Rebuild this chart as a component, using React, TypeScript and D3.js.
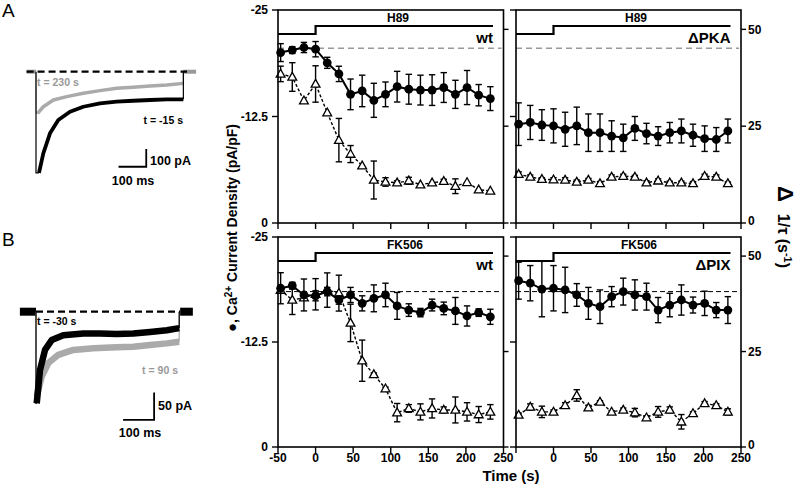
import React from "react";
import * as d3 from "d3";

const FONT = "'Liberation Sans', Arial, Helvetica, sans-serif";

// ---------- data ----------
const times = [-46.5, -31, -15.5, 0, 15.5, 31, 46.5, 62, 77.5, 93, 108.5, 124, 139.5, 155, 170.5, 186, 201.5, 217, 232.5];
const xTicks = [-50, 0, 50, 100, 150, 200, 250];
const leftTicks = [-25, -12.5, 0];
const rightTicks = [0, 25, 50];

// H89, wt
const h89WtCurrent = [-20.0, -20.3, -20.6, -20.4, -18.8, -17.5, -15.1, -15.5, -14.4, -15.1, -16.0, -15.7, -15.6, -15.6, -15.9, -15.1, -15.9, -15.0, -14.6];
const h89WtCurrentErr = [1.05, 0.4, 0.6, 0.9, 0.65, 0.9, 1.8, 1.85, 2.0, 1.45, 1.8, 1.75, 1.75, 1.8, 1.75, 1.65, 2.0, 1.25, 1.4];
const h89WtRate = [38.5, 37.7, 31.6, 35.9, 28.5, 21.4, 17.8, 14.8, 11.1, 10.6, 10.4, 10.9, 9.9, 10.4, 10.8, 9.5, 10.5, 8.6, 8.3];
const h89WtRateErr = [2.0, 3.7, 0, 4.7, 0, 5.6, 2.2, 0, 4.9, 1.1, 0.5, 0.9, 0, 0, 0.5, 1.9, 0, 0, 0];

// H89, ΔPKA
const h89PkaCurrent = [-11.6, -11.8, -11.5, -11.4, -11.0, -11.4, -10.6, -10.6, -10.2, -10.0, -11.1, -10.5, -10.2, -10.6, -10.8, -10.3, -9.9, -9.8, -10.8];
const h89PkaCurrentErr = [2.5, 2.0, 1.8, 2.0, 2.0, 2.2, 2.2, 2.2, 1.8, 1.6, 1.4, 1.2, 1.1, 1.2, 1.4, 1.3, 1.5, 1.4, 1.4];
const h89PkaRate = [12.6, 11.9, 11.3, 11.2, 11.1, 10.6, 11.1, 10.2, 11.9, 12.1, 11.9, 10.4, 10.9, 10.4, 10.4, 10.2, 12.1, 11.9, 10.2];
const h89PkaRateErr = [0.6, 0.5, 0.4, 0.5, 0.6, 0.5, 0.4, 0.5, 0.5, 0.5, 0.4, 0.5, 0.5, 0.4, 0.4, 0.5, 0.5, 0.5, 0.4];

// FK506, wt
const fkWtCurrent = [-18.9, -19.2, -18.1, -18.0, -18.5, -17.5, -18.1, -17.1, -17.7, -18.1, -16.8, -16.3, -16.0, -16.9, -16.5, -16.2, -15.6, -16.0, -15.5];
const fkWtCurrentErr = [1.85, 0.4, 1.9, 0.6, 0.5, 0.5, 0.9, 0.9, 1.6, 1.4, 1.6, 0.75, 0.5, 0.7, 0.75, 1.6, 1.2, 0.45, 0.9];
const fkWtRate = [41.1, 38.5, 39.1, 40.0, 41.1, 40.3, 32.5, 22.6, 19.0, 15.3, 9.0, 10.1, 9.2, 10.1, 9.7, 9.7, 9.2, 8.5, 9.2];
const fkWtRateErr = [0.4, 3.8, 0.5, 4.1, 4.5, 4.7, 4.9, 5.4, 0.4, 0.4, 2.4, 1.0, 2.1, 2.5, 0.8, 3.4, 2.4, 2.1, 1.9];

// FK506, ΔPIX
const fkPixCurrent = [-19.8, -19.5, -18.8, -18.9, -18.7, -18.1, -17.1, -16.7, -17.9, -18.5, -18.1, -17.9, -16.3, -16.9, -17.5, -16.9, -17.1, -16.3, -16.3];
const fkPixCurrentErr = [2.2, 2.1, 3.3, 2.7, 2.7, 1.35, 1.9, 2.0, 1.2, 1.6, 1.8, 1.6, 1.5, 1.4, 1.8, 0.95, 1.45, 0.9, 1.6];
const fkPixRate = [8.4, 10.5, 9.2, 9.2, 10.9, 13.5, 10.3, 11.8, 9.2, 9.7, 9.0, 7.7, 9.2, 9.7, 6.6, 8.8, 11.4, 10.9, 9.2];
const fkPixRateErr = [0.5, 0.8, 1.5, 0.5, 0.7, 1.5, 0.6, 0.3, 0.3, 0.5, 1.1, 0.5, 1.4, 0.8, 1.9, 0.4, 0.5, 0.4, 0.8];

// reference current levels (pA/pF)
const h89Ref = -20.5;
const fkRef = -18.5;
const drugStart = 0;
const drugEnd = 236;

// example current traces: [time (ms), current (pA)]
const traceABlack: [number, number][] = [[10.8, -572], [26.4, -461], [50.5, -348], [80.5, -273], [122.7, -226], [170.8, -198], [231, -179], [291, -169], [351, -164], [412, -160], [472, -156], [532, -156]];
const traceAGray: [number, number][] = [[6, -235], [26.4, -198], [62.5, -160], [110.8, -141], [170.8, -122], [231, -107], [291, -94], [351, -88], [412, -81], [472, -75], [532, -66]];
const traceBBlack: [number, number][] = [[2.3, -168], [12.9, -107], [29, -70], [50.6, -52], [88, -43], [152.6, -40], [206, -40], [260, -41], [314, -40], [368, -37], [422, -34], [462, -30]];
const traceBGray: [number, number][] = [[2.3, -155], [18.4, -119], [39.7, -94], [72, -79], [120, -70], [185, -67], [260, -65], [314, -64], [368, -61], [422, -58], [462, -55]];

type PanelProps = {
  x0: number; x1: number; y0: number; y1: number;
  current: number[]; currentErr: number[]; rate: number[]; rateErr: number[];
  drug: string; drugX: number; genotype: string; refLevel: number; refColor: string; refDash: string; refWidth: number;
  leftLabels: boolean; rightLabels: boolean; xLabels: number[] | null;
};

function Panel(p: PanelProps) {
  const x = d3.scaleLinear().domain([-50, 250]).range([p.x0, p.x1]);
  const yL = d3.scaleLinear().domain([0, -25]).range([p.y1, p.y0]);
  const yR = d3.scaleLinear().domain([0, 55]).range([p.y1, p.y0]);
  const lineL = d3.line<number>().x((_, i) => x(times[i])).y((d) => yL(d));
  const lineR = d3.line<number>().x((_, i) => x(times[i])).y((d) => yR(d));
  const tri = (cx: number, cy: number) => `M${cx},${cy - 4.6}L${cx + 4.4},${cy + 3.2}L${cx - 4.4},${cy + 3.2}Z`;
  const cap = 3.2;
  return (
    <g fontFamily={FONT} fontWeight="bold">
      <line x1={p.x0} x2={p.x1 - 2} y1={yL(p.refLevel)} y2={yL(p.refLevel)} stroke={p.refColor} strokeWidth={p.refWidth} strokeDasharray={p.refDash} />
      <path d={`M${p.x0},${p.y0 + 24}H${x(drugStart)}V${p.y0 + 16}H${x(drugEnd)}`} fill="none" stroke="#000" strokeWidth={2.2} />
      <text x={p.drugX} y={p.y0 + 12} textAnchor="middle" fontSize={12}>{p.drug}</text>
      <text x={x(drugEnd)} y={p.y0 + 33} textAnchor="end" fontSize={15}>{p.genotype}</text>
      {p.rate.map((v, i) => p.rateErr[i] > 0 ? (
        <g key={"re" + i} stroke="#000" strokeWidth={1.4}>
          <line x1={x(times[i])} x2={x(times[i])} y1={yR(v - p.rateErr[i])} y2={yR(v + p.rateErr[i])} />
          <line x1={x(times[i]) - cap} x2={x(times[i]) + cap} y1={yR(v - p.rateErr[i])} y2={yR(v - p.rateErr[i])} />
          <line x1={x(times[i]) - cap} x2={x(times[i]) + cap} y1={yR(v + p.rateErr[i])} y2={yR(v + p.rateErr[i])} />
        </g>
      ) : null)}
      <path d={lineR(p.rate) || ""} fill="none" stroke="#000" strokeWidth={1.4} strokeDasharray="3,2" />
      {p.rate.map((v, i) => (
        <path key={"t" + i} d={tri(x(times[i]), yR(v))} fill="#fff" stroke="#000" strokeWidth={1.3} />
      ))}
      {p.current.map((v, i) => (
        <g key={"ce" + i} stroke="#000" strokeWidth={1.4}>
          <line x1={x(times[i])} x2={x(times[i])} y1={yL(v - p.currentErr[i])} y2={yL(v + p.currentErr[i])} />
          <line x1={x(times[i]) - cap} x2={x(times[i]) + cap} y1={yL(v - p.currentErr[i])} y2={yL(v - p.currentErr[i])} />
          <line x1={x(times[i]) - cap} x2={x(times[i]) + cap} y1={yL(v + p.currentErr[i])} y2={yL(v + p.currentErr[i])} />
        </g>
      ))}
      <path d={lineL(p.current) || ""} fill="none" stroke="#000" strokeWidth={2} />
      {p.current.map((v, i) => (
        <circle key={"c" + i} cx={x(times[i])} cy={yL(v)} r={4.4} fill="#000" />
      ))}
      <rect x={p.x0} y={p.y0} width={p.x1 - p.x0} height={p.y1 - p.y0} fill="none" stroke="#000" strokeWidth={1.6} />
      {leftTicks.map((t) => (
        <g key={"lt" + t}>
          <line x1={p.x0 - 6} x2={p.x0} y1={yL(t)} y2={yL(t)} stroke="#000" strokeWidth={1.4} />
          {p.leftLabels ? <text x={p.x0 - 10} y={yL(t) + 4.3} textAnchor="end" fontSize={12}>{t}</text> : null}
        </g>
      ))}
      {rightTicks.map((t) => (
        <g key={"rt" + t}>
          <line x1={p.x1} x2={p.x1 + 5} y1={yR(t)} y2={yR(t)} stroke="#000" strokeWidth={1.4} />
          {p.rightLabels ? <text x={p.x1 + 7} y={yR(t) + (t === 0 ? 2 : 4.3)} textAnchor="start" fontSize={12}>{t}</text> : null}
        </g>
      ))}
      {xTicks.map((t) => (
        <g key={"xt" + t}>
          <line x1={x(t)} x2={x(t)} y1={p.y1} y2={p.y1 + 6} stroke="#000" strokeWidth={1.4} />
          {p.xLabels && p.xLabels.includes(t) ? <text x={x(t)} y={p.y1 + 15} textAnchor="middle" fontSize={12}>{t}</text> : null}
        </g>
      ))}
    </g>
  );
}

function Trace(props: { data: [number, number][]; sx: d3.ScaleLinear<number, number>; sy: d3.ScaleLinear<number, number>; color: string; width: number; endT: number }) {
  const { data, sx, sy, color, width, endT } = props;
  const line = d3.line<[number, number]>().x((d) => sx(d[0])).y((d) => sy(d[1]));
  const first = data[0];
  const last = data[data.length - 1];
  return (
    <g>
      <path d={`M${sx(0)},${sy(0)}L${sx(0)},${sy(first[1])}L${sx(first[0])},${sy(first[1])}`} fill="none" stroke={color} strokeWidth={1.2} />
      <path d={line(data) || ""} fill="none" stroke={color} strokeWidth={width} strokeLinejoin="round" />
      <line x1={sx(endT)} x2={sx(endT)} y1={sy(last[1])} y2={sy(0)} stroke={color} strokeWidth={1.2} />
    </g>
  );
}

export default function App() {
  const axA = d3.scaleLinear().domain([0, 100]).range([36, 63.7]);
  const ayA = d3.scaleLinear().domain([0, -100]).range([71.7, 89.4]);
  const axB = d3.scaleLinear().domain([0, 100]).range([36, 67]);
  const ayB = d3.scaleLinear().domain([0, -50]).range([311.7, 339]);

  return (
    <svg width={800} height={486} style={{ position: "absolute", left: 0, top: 0, background: "#fff" }} fontFamily={FONT}>
      <rect x={0} y={0} width={800} height={486} fill="#fff" />
      {/* Panel A traces */}
      <text x={2} y={17} fontSize={19}>A</text>
      <line x1={axA(-34)} x2={axA(0)} y1={ayA(0)} y2={ayA(0)} stroke="#999" strokeWidth={4} />
      <line x1={axA(532)} x2={axA(578)} y1={ayA(0)} y2={ayA(0)} stroke="#999" strokeWidth={4} />
      <Trace data={traceAGray} sx={axA} sy={ayA} color="#aaa" width={3.5} endT={532} />
      <Trace data={traceABlack} sx={axA} sy={ayA} color="#000" width={3.8} endT={532} />
      <line x1={axA(-34)} x2={axA(545)} y1={ayA(0)} y2={ayA(0)} stroke="#000" strokeWidth={2.2} strokeDasharray="7,4" />
      <text x={37} y={86} fontSize={10.5} fontWeight="bold" fill="#999">t = 230 s</text>
      <text x={183} y={124} fontSize={10.5} fontWeight="bold" textAnchor="end">t = -15 s</text>
      <path d={`M${axA(298)},${ayA(-537)}H${axA(398)}V${ayA(-437)}`} fill="none" stroke="#000" strokeWidth={1.8} />
      <text x={150} y={165} fontSize={12.5} fontWeight="bold">100 pA</text>
      <text x={133} y={185} fontSize={12.5} fontWeight="bold" textAnchor="middle">100 ms</text>

      {/* Panel B traces */}
      <text x={2} y={246} fontSize={19}>B</text>
      <line x1={axB(-52)} x2={axB(0)} y1={ayB(0)} y2={ayB(0)} stroke="#000" strokeWidth={8} />
      <line x1={axB(465)} x2={axB(506)} y1={ayB(0)} y2={ayB(0)} stroke="#000" strokeWidth={8} />
      <Trace data={traceBGray} sx={axB} sy={ayB} color="#aaa" width={6.5} endT={462} />
      <Trace data={traceBBlack} sx={axB} sy={ayB} color="#000" width={6.5} endT={462} />
      <line x1={axB(0)} x2={axB(465)} y1={ayB(0)} y2={ayB(0)} stroke="#000" strokeWidth={2.2} strokeDasharray="7,4" />
      <text x={37} y={325} fontSize={10.5} fontWeight="bold">t = -30 s</text>
      <text x={178} y={374} fontSize={10.5} fontWeight="bold" fill="#999" textAnchor="end">t = 90 s</text>
      <path d={`M${axB(281)},${ayB(-198)}H${axB(381)}V${ayB(-148)}`} fill="none" stroke="#000" strokeWidth={1.8} />
      <text x={158} y={410} fontSize={12.5} fontWeight="bold">50 pA</text>
      <text x={140} y={437} fontSize={12.5} fontWeight="bold" textAnchor="middle">100 ms</text>

      {/* Summary panels */}
      <Panel x0={278} x1={503.5} y0={10} y1={223} current={h89WtCurrent} currentErr={h89WtCurrentErr} rate={h89WtRate} rateErr={h89WtRateErr}
        drug="H89" drugX={398} genotype="wt" refLevel={h89Ref} refColor="#999" refDash="6,4" refWidth={1.5}
        leftLabels={true} rightLabels={false} xLabels={null} />
      <Panel x0={516} x1={741} y0={10} y1={223} current={h89PkaCurrent} currentErr={h89PkaCurrentErr} rate={h89PkaRate} rateErr={h89PkaRateErr}
        drug="H89" drugX={636} genotype="ΔPKA" refLevel={h89Ref} refColor="#999" refDash="6,4" refWidth={1.5}
        leftLabels={false} rightLabels={true} xLabels={null} />
      <Panel x0={278} x1={503.5} y0={237} y1={447} current={fkWtCurrent} currentErr={fkWtCurrentErr} rate={fkWtRate} rateErr={fkWtRateErr}
        drug="FK506" drugX={405} genotype="wt" refLevel={fkRef} refColor="#000" refDash="5,3" refWidth={1}
        leftLabels={true} rightLabels={false} xLabels={xTicks} />
      <Panel x0={516} x1={741} y0={237} y1={447} current={fkPixCurrent} currentErr={fkPixCurrentErr} rate={fkPixRate} rateErr={fkPixRateErr}
        drug="FK506" drugX={639} genotype="ΔPIX" refLevel={fkRef} refColor="#000" refDash="5,3" refWidth={1}
        leftLabels={false} rightLabels={true} xLabels={xTicks.slice(1)} />

      {/* axis titles */}
      <text transform="translate(237,228) rotate(-90)" textAnchor="middle" fontSize={14} fontWeight="bold">
        <tspan fontSize={15}>●</tspan>, Ca<tspan baselineShift="super" fontSize={10}>2+</tspan> Current Density (pA/pF)
      </text>
      <text transform="translate(778,227) rotate(90)" textAnchor="middle" fontSize={16} fontWeight="bold">
        <tspan fontSize={22}>Δ</tspan><tspan dx={12}>1/τ (s</tspan><tspan baselineShift="super" fontSize={11}>-1</tspan><tspan>)</tspan>
      </text>
      <text x={511} y={481} textAnchor="middle" fontSize={15} fontWeight="bold">Time (s)</text>
    </svg>
  );
}
